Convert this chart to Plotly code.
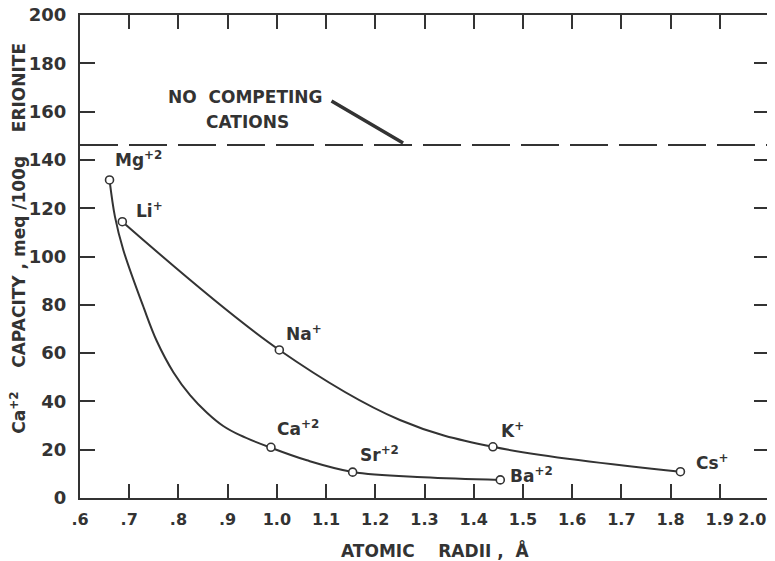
import plotly.graph_objects as go

# ---- data ----
# measured points (open circles)
ion_labels = ["Mg<sup>+2</sup>", "Ca<sup>+2</sup>", "Sr<sup>+2</sup>", "Ba<sup>+2</sup>",
              "Li<sup>+</sup>", "Na<sup>+</sup>", "K<sup>+</sup>", "Cs<sup>+</sup>"]
ion_radius = [0.660, 0.988, 1.154, 1.454, 0.686, 1.005, 1.439, 1.820]
ion_capacity = [131.7, 21.0, 10.7, 7.5, 114.4, 61.3, 21.2, 10.9]

# hand-drawn smooth curves
divalent_curve_x = [0.660, 0.671, 0.688, 0.730, 0.756, 0.790, 0.824, 0.858, 0.891, 0.925, 0.988,
                    1.061, 1.154, 1.298, 1.454]
divalent_curve_y = [131.7, 116.5, 102.7, 78.5, 65.0, 52.0, 42.5, 35.3, 29.8, 26.0, 20.8,
                    15.6, 10.8, 8.6, 7.5]
monovalent_curve_x = [0.686, 1.005, 1.250, 1.439, 1.820]
monovalent_curve_y = [114.4, 61.3, 32.3, 21.2, 10.9]

no_competing_capacity = 146.2

x_tickvals = [0.6, 0.7, 0.8, 0.9, 1.0, 1.1, 1.2, 1.3, 1.4, 1.5, 1.6, 1.7, 1.8, 1.9, 2.0]
x_ticktext = [".6", ".7", ".8", ".9", "1.0", "1.1", "1.2", "1.3", "1.4", "1.5", "1.6", "1.7", "1.8", "1.9", "2.0"]
y_tickvals = [0, 20, 40, 60, 80, 100, 120, 140, 160, 180, 200]

# ---- styling ----
INK = "#333333"
FONT = "DejaVu Sans"
NB = "\u00a0"

fig = go.Figure()
for cx, cy in [(divalent_curve_x, divalent_curve_y), (monovalent_curve_x, monovalent_curve_y)]:
    fig.add_trace(go.Scatter(x=cx, y=cy, mode="lines",
                             line=dict(color=INK, width=2, shape="spline", smoothing=1.0),
                             hoverinfo="skip", showlegend=False))
fig.add_trace(go.Scatter(x=ion_radius, y=ion_capacity, mode="markers",
                         marker=dict(symbol="circle", size=8, color="white", line=dict(color=INK, width=1.6)),
                         showlegend=False))

# label offsets (pixels) relative to each point
label_offsets = {
    "Mg<sup>+2</sup>": (3, 21), "Ca<sup>+2</sup>": (4, 19), "Sr<sup>+2</sup>": (5, 18), "Ba<sup>+2</sup>": (8, 5),
    "Li<sup>+</sup>": (12, 12), "Na<sup>+</sup>": (5, 17), "K<sup>+</sup>": (6, 17), "Cs<sup>+</sup>": (14, 10),
}
for lab, xv, yv in zip(ion_labels, ion_radius, ion_capacity):
    dx, dy = label_offsets[lab]
    fig.add_annotation(x=xv, y=yv, text=lab, showarrow=False, xanchor="left", yanchor="middle",
                       xshift=dx, yshift=dy, font=dict(family=FONT, size=17, color=INK, weight="bold"))

# dashed reference line
fig.add_shape(type="line", xref="x", yref="y", x0=0.6, x1=2.0, y0=no_competing_capacity, y1=no_competing_capacity,
              line=dict(color=INK, width=2, dash="38px,11px"))

fig.add_annotation(x=0.937, y=166, text="NO" + NB * 2 + "COMPETING", showarrow=False,
                   font=dict(family=FONT, size=17, color=INK, weight="bold"))
fig.add_annotation(x=0.941, y=155.7, text="CATIONS", showarrow=False,
                   font=dict(family=FONT, size=17, color=INK, weight="bold"))
fig.add_annotation(x=1.2565, y=no_competing_capacity + 0.8, ax=1.108, ay=164.8, axref="x", ayref="y",
                   text="", showarrow=True, arrowhead=0, arrowwidth=3.5, arrowcolor=INK)

# axis titles
fig.add_annotation(xref="paper", yref="paper", x=-0.09, y=0.539, textangle=-90, showarrow=False,
                   xanchor="center", yanchor="middle",
                   text="Ca<sup>+2</sup>" + NB * 4 + "CAPACITY" + NB + "," + NB + "meq" + NB + "/100g" + NB * 4 + "ERIONITE",
                   font=dict(family=FONT, size=17, color=INK, weight="bold"))
fig.add_annotation(xref="paper", yref="paper", x=0.515, y=-0.108, showarrow=False,
                   xanchor="center", yanchor="middle",
                   text="ATOMIC" + NB * 4 + "RADII" + NB + "," + NB * 2 + "Å",
                   font=dict(family=FONT, size=17, color=INK, weight="bold"))

# the last tick label sits at the right edge of the page: pad it so its glyphs stay inside
x_ticktext_shown = x_ticktext[:-1] + [x_ticktext[-1] + NB * 6]

axis_common = dict(showline=True, linecolor=INK, linewidth=2, mirror="ticks", ticks="inside",
                   tickcolor=INK, tickwidth=2, showgrid=False, zeroline=False,
                   ticklabeloverflow="allow", automargin=False)
fig.update_xaxes(range=[0.6, 2.0], tickvals=x_tickvals, ticktext=x_ticktext_shown, ticklen=14, tickangle=0,
                 ticklabelstandoff=6, tickfont=dict(family=FONT, size=16, color=INK, weight="bold"),
                 **axis_common)
fig.update_yaxes(range=[0, 200], tickvals=y_tickvals, ticklen=15, ticklabelstandoff=8,
                 tickfont=dict(family=FONT, size=18, color=INK, weight="bold"), **axis_common)

# page body has an 8px margin, so the figure is sized to fit the 775x561 window
fig.update_layout(width=767, height=553, margin=dict(l=72, r=6, t=7, b=63, autoexpand=False),
                  plot_bgcolor="white", paper_bgcolor="white", showlegend=False,
                  font=dict(family=FONT, color=INK))
fig.write_html("out.html")
